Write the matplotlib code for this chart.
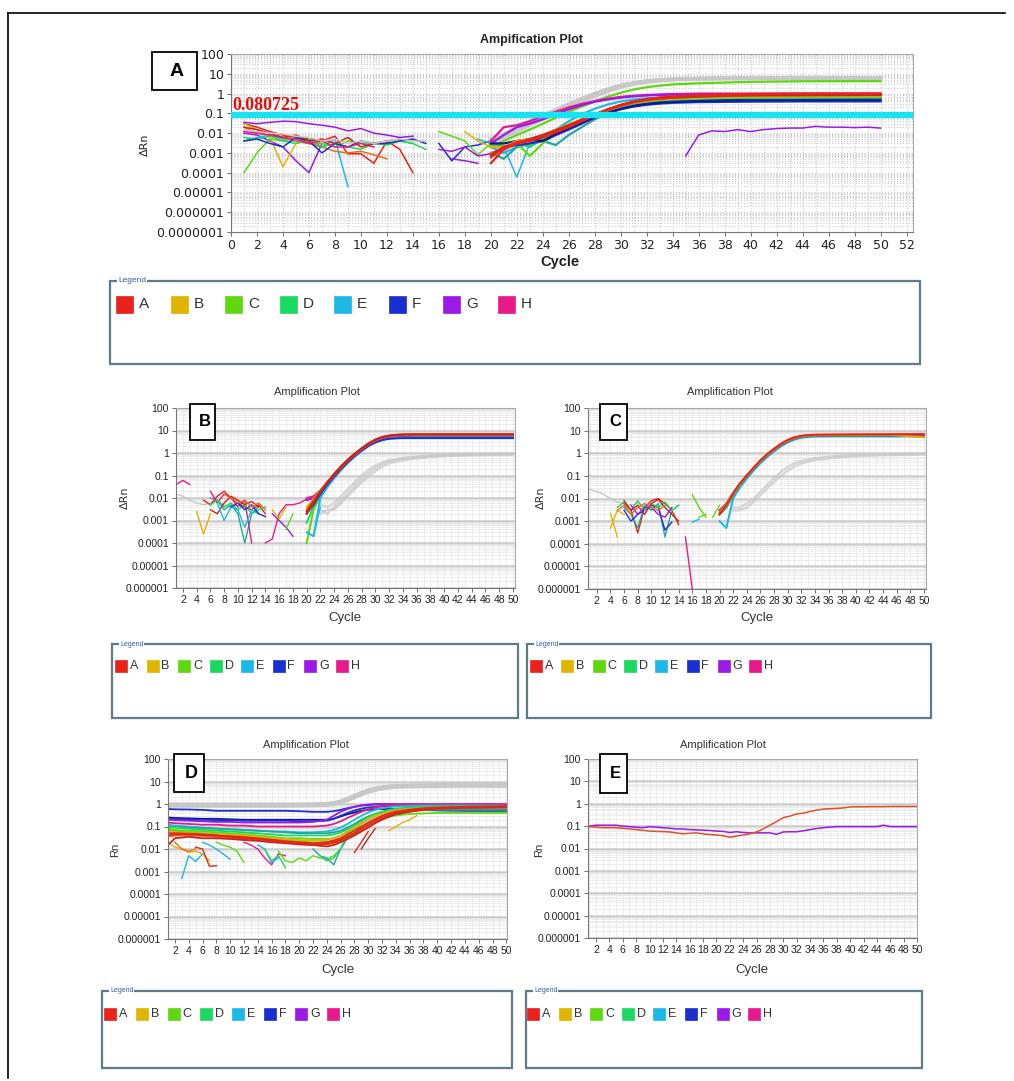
import numpy as np
import matplotlib.pyplot as plt
from matplotlib.patches import Rectangle
from matplotlib.ticker import LogLocator, MultipleLocator, NullFormatter

W, H = 1014, 1081

# legend groups and their colours
GROUPS = ['A', 'B', 'C', 'D', 'E', 'F', 'G', 'H']
GROUP_COLORS = ['#e8231b', '#e0b400', '#5fd80f', '#1bd860', '#1cb8e6', '#1a2fd0', '#9b1ae8', '#e81a8a']
C = dict(zip(GROUPS, GROUP_COLORS))
C['O'] = '#f06a1a'   # orange
C['R2'] = '#c0281e'  # dark red
C['T'] = '#20a8a0'   # teal
C['N'] = '#0a1a90'   # navy
C['GR'] = '#c8c8c8'  # grey reference wells

YLAB_A = ['0.0000001', '0.000001', '0.00001', '0.0001', '0.001', '0.01', '0.1', '1', '10', '100']
YLAB_B = YLAB_A[1:]
XT_A = list(range(0, 53, 2))
XT_B = list(range(2, 51, 2))
THRESHOLD_A = 0.080725

# ---------------- panel A : delta Rn ----------------
# noisy baseline pieces: (colour, first cycle, values)
A_NOISE = [
    ('A', 1, [0.03, 0.02, 0.012, 0.008, 0.006, 0.005, 0.004, 0.007, 0.0009, 0.0009, 0.0003, 0.004, 0.0015, 0.0001]),
    ('G', 1, [0.035, 0.03, 0.035, 0.04, 0.038, 0.03, 0.025, 0.02, 0.013, 0.017, 0.01, 0.008, 0.006, 0.007]),
    ('G', 1, [0.01, 0.008, 0.004, 0.002, 0.0004, 0.0001, 0.003]),
    ('E', 1, [0.004, 0.006, 0.008, 0.005, 0.004, 0.003, 0.002, 0.005, 0.00002]),
    ('B', 1, [0.03, 0.015, 0.006, 0.0002, 0.003, 0.004, 0.003]),
    ('C', 1, [0.0001, 0.001, 0.005, 0.004, 0.006, 0.003, 0.003, 0.002, 0.004, 0.003, 0.003, 0.003, 0.004, 0.003]),
    ('O', 1, [0.02, 0.01, 0.008, 0.006, 0.004, 0.003, 0.002, 0.0012, 0.001, 0.0012, 0.0008, 0.0005]),
    ('D', 1, [0.006, 0.005, 0.007, 0.004, 0.003, 0.005, 0.002, 0.003, 0.002, 0.0015, 0.003, 0.0025, 0.004, 0.003, 0.0015]),
    ('F', 1, [0.004, 0.005, 0.003, 0.002, 0.006, 0.004, 0.001, 0.003, 0.002, 0.004, 0.003, 0.003, 0.004, 0.005, 0.003]),
    ('H', 1, [0.012, 0.01, 0.008, 0.006, 0.005, 0.003, 0.004, 0.002, 0.002, 0.003, 0.002]),
    ('R2', 1, [0.02, 0.015, 0.01, 0.006, 0.008, 0.004, 0.005, 0.003, 0.006, 0.002, 0.003, 0.004, 0.005]),
    ('GR', 1, [0.015, 0.012, 0.01, 0.009, 0.007, 0.006, 0.004, 0.005, 0.003, 0.004, 0.003, 0.004, 0.005, 0.004, 0.004]),
    ('F', 16, [0.003, 0.0004, 0.002, 0.0025, 0.004]),
    ('C', 16, [0.012, 0.007, 0.004, 0.0008, 0.003, 0.006]),
    ('G', 17, [0.0005, 0.0004, 0.0003]),
    ('G', 16, [0.0015, 0.0012, 0.002, 0.0007, 0.0009, 0.002]),
    ('B', 18, [0.012, 0.004, 0.002, 0.003]),
    ('E', 19, [0.005, 0.003, 0.002, 0.00006, 0.003]),
    ('T', 20, [0.004, 0.002, 0.003, 0.002]),
]
A_AMP_X = [20, 21, 22, 23, 24, 25, 26, 27, 28, 29, 30, 31, 32, 33, 34, 36, 38, 40, 44, 50]
A_AMP = [
    ('GR', [0.004, 0.008, 0.015, 0.03, 0.06, 0.12, 0.25, 0.5, 0.9, 1.5, 2.4, 3.3, 4.2, 4.9, 5.4, 5.9, 6.1, 6.2, 6.3, 6.3]),
    ('GR', [0.003, 0.006, 0.012, 0.025, 0.05, 0.1, 0.2, 0.4, 0.75, 1.3, 2.1, 3.0, 3.8, 4.5, 5.0, 5.5, 5.8, 6.0, 6.1, 6.2]),
    ('GR', [0.005, 0.009, 0.02, 0.04, 0.08, 0.15, 0.3, 0.55, 1.0, 1.7, 2.6, 3.5, 4.3, 4.8, 5.2, 5.6, 5.8, 5.9, 6.0, 6.0]),
    ('C', [0.002, 0.004, 0.008, 0.015, 0.03, 0.06, 0.12, 0.22, 0.4, 0.7, 1.1, 1.6, 2.1, 2.5, 2.9, 3.3, 3.6, 3.9, 4.2, 4.3]),
    ('H', [0.004, 0.02, 0.025, 0.04, 0.07, 0.12, 0.2, 0.3, 0.42, 0.55, 0.68, 0.78, 0.85, 0.9, 0.95, 1.0, 1.0, 1.0, 1.0, 1.0]),
    ('G', [0.003, 0.008, 0.02, 0.03, 0.05, 0.09, 0.16, 0.26, 0.38, 0.5, 0.62, 0.72, 0.8, 0.85, 0.88, 0.9, 0.9, 0.9, 0.9, 0.9]),
    ('E', [0.002, 0.001, 0.002, 0.003, 0.006, 0.015, 0.04, 0.09, 0.17, 0.28, 0.4, 0.5, 0.58, 0.62, 0.65, 0.68, 0.7, 0.7, 0.7, 0.7]),
    ('T', [0.001, 0.0005, 0.002, 0.003, 0.004, 0.0025, 0.008, 0.02, 0.05, 0.1, 0.18, 0.26, 0.33, 0.38, 0.42, 0.46, 0.5, 0.52, 0.53, 0.55]),
    ('C', [0.0025, 0.002, 0.003, 0.0007, 0.003, 0.009, 0.02, 0.04, 0.075, 0.13, 0.22, 0.3, 0.38, 0.44, 0.5, 0.55, 0.58, 0.6, 0.62, 0.63]),
    ('D', [0.003, 0.002, 0.004, 0.002, 0.005, 0.01, 0.02, 0.038, 0.07, 0.12, 0.2, 0.28, 0.36, 0.42, 0.47, 0.52, 0.55, 0.57, 0.58, 0.6]),
    ('F', [0.002, 0.002, 0.0025, 0.003, 0.004, 0.008, 0.015, 0.03, 0.06, 0.1, 0.16, 0.22, 0.27, 0.31, 0.34, 0.37, 0.38, 0.39, 0.4, 0.4]),
    ('N', [0.003, 0.003, 0.004, 0.005, 0.004, 0.009, 0.018, 0.035, 0.065, 0.11, 0.17, 0.24, 0.3, 0.35, 0.38, 0.42, 0.45, 0.46, 0.47, 0.48]),
    ('B', [0.002, 0.002, 0.004, 0.005, 0.008, 0.015, 0.028, 0.05, 0.09, 0.15, 0.24, 0.34, 0.43, 0.5, 0.55, 0.62, 0.66, 0.7, 0.72, 0.74]),
    ('O', [0.001, 0.0015, 0.003, 0.004, 0.007, 0.012, 0.022, 0.042, 0.08, 0.14, 0.23, 0.34, 0.45, 0.55, 0.62, 0.72, 0.8, 0.85, 0.88, 0.9]),
    ('R2', [0.0008, 0.002, 0.003, 0.005, 0.008, 0.014, 0.025, 0.048, 0.09, 0.16, 0.26, 0.38, 0.48, 0.56, 0.62, 0.7, 0.76, 0.8, 0.82, 0.85]),
    ('A', [0.0003, 0.0015, 0.003, 0.004, 0.006, 0.011, 0.02, 0.04, 0.08, 0.15, 0.25, 0.38, 0.5, 0.6, 0.68, 0.78, 0.85, 0.9, 0.95, 0.95]),
    ('A', [0.0006, 0.0018, 0.0035, 0.0045, 0.007, 0.012, 0.022, 0.043, 0.085, 0.16, 0.27, 0.4, 0.53, 0.63, 0.72, 0.82, 0.9, 0.95, 1.0, 1.0]),
]
A_LATE_X = list(range(35, 51))
A_LATE = [0.0007, 0.008, 0.013, 0.012, 0.015, 0.012, 0.015, 0.017, 0.018, 0.018, 0.022, 0.02, 0.02, 0.019, 0.02, 0.018]

# ---------------- panel B : delta Rn ----------------
B_NOISE = [
    ('H', 1, [0.04, 0.06, 0.04]),
    ('GR', 1, [0.015, 0.012, 0.008, 0.006, 0.005, 0.006, 0.008, 0.005, 0.004, 0.005]),
    ('B', 4, [0.0025, 0.00025, 0.002]),
    ('A', 5, [0.008, 0.005, 0.012, 0.02, 0.01, 0.006, 0.004, 0.003, 0.005, 0.002]),
    ('T', 6, [0.01, 0.008, 0.003, 0.005, 0.002, 0.0001, 0.002, 0.004]),
    ('H', 6, [0.02, 0.006, 0.015, 0.01, 0.004, 0.008, 0.0001]),
    ('D', 6, [0.005, 0.008, 0.004, 0.006, 0.003, 0.005, 0.002, 0.003, 0.004]),
    ('R2', 6, [0.003, 0.002, 0.006, 0.012, 0.008, 0.005, 0.007, 0.004]),
    ('E', 7, [0.006, 0.001, 0.004, 0.003, 0.0005, 0.003, 0.002]),
    ('F', 9, [0.004, 0.006, 0.003, 0.005, 0.002, 0.0015]),
    ('O', 8, [0.015, 0.01, 0.006, 0.008, 0.004, 0.006, 0.003]),
    ('H', 14, [0.0001, 0.00015, 0.002, 0.005, 0.005, 0.006, 0.009]),
    ('G', 15, [0.002, 0.001, 0.0005, 0.0002]),
    ('B', 15, [0.003, 0.0012, 0.004]),
    ('C', 17, [0.0004, 0.002]),
    ('C', 20, [0.0001, 0.003]),
    ('E', 21, [0.0002, 0.004]),
]
B_AMP_X = [20, 21, 22, 23, 24, 25, 26, 27, 28, 29, 30, 31, 32, 33, 34, 36, 40, 45, 50]
B_AMP = [
    ('C', [0.0001, 0.003, 0.012, 0.035, 0.085, 0.19, 0.4, 0.75, 1.3, 2.2, 3.3, 4.4, 5.2, 5.6, 5.8, 5.9, 5.9, 6.0, 6.0]),
    ('D', [0.0008, 0.004, 0.014, 0.038, 0.09, 0.2, 0.42, 0.78, 1.35, 2.2, 3.2, 4.2, 4.9, 5.3, 5.5, 5.6, 5.6, 5.6, 5.6]),
    ('E', [0.0003, 0.0002, 0.01, 0.03, 0.075, 0.17, 0.36, 0.68, 1.2, 2.0, 2.9, 3.7, 4.3, 4.6, 4.7, 4.7, 4.7, 4.7, 4.7]),
    ('F', [0.002, 0.005, 0.015, 0.04, 0.09, 0.2, 0.4, 0.75, 1.3, 2.1, 3.0, 3.8, 4.3, 4.5, 4.6, 4.6, 4.6, 4.6, 4.6]),
    ('G', [0.008, 0.01, 0.02, 0.05, 0.11, 0.23, 0.46, 0.85, 1.45, 2.4, 3.5, 4.6, 5.3, 5.7, 5.9, 6.0, 6.0, 6.0, 6.0]),
    ('H', [0.01, 0.012, 0.022, 0.05, 0.11, 0.24, 0.48, 0.88, 1.5, 2.5, 3.7, 4.8, 5.6, 6.0, 6.2, 6.3, 6.3, 6.3, 6.3]),
    ('B', [0.004, 0.009, 0.022, 0.05, 0.11, 0.23, 0.47, 0.85, 1.5, 2.5, 3.7, 4.9, 5.7, 6.1, 6.3, 6.4, 6.4, 6.5, 6.5]),
    ('O', [0.003, 0.008, 0.02, 0.05, 0.11, 0.24, 0.5, 0.9, 1.6, 2.6, 3.9, 5.1, 5.9, 6.3, 6.5, 6.6, 6.7, 6.7, 6.7]),
    ('A', [0.002, 0.006, 0.018, 0.045, 0.1, 0.22, 0.45, 0.85, 1.5, 2.5, 3.8, 5.0, 5.8, 6.3, 6.5, 6.6, 6.6, 6.6, 6.6]),
    ('R2', [0.0025, 0.007, 0.02, 0.05, 0.12, 0.26, 0.52, 0.95, 1.65, 2.7, 4.0, 5.2, 6.0, 6.5, 6.7, 6.8, 6.8, 6.8, 6.8]),
]
GREY_X = [22, 23, 24, 25, 26, 27, 28, 29, 30, 31, 32, 34, 36, 38, 40, 44, 50]
B_GREY = [
    [0.003, 0.002, 0.004, 0.008, 0.016, 0.035, 0.07, 0.13, 0.22, 0.32, 0.42, 0.55, 0.65, 0.72, 0.78, 0.85, 0.9],
    [0.005, 0.004, 0.006, 0.012, 0.025, 0.05, 0.1, 0.18, 0.28, 0.38, 0.48, 0.6, 0.7, 0.78, 0.83, 0.9, 0.95],
    [0.002, 0.003, 0.003, 0.006, 0.012, 0.025, 0.05, 0.09, 0.16, 0.25, 0.35, 0.48, 0.58, 0.66, 0.72, 0.8, 0.85],
]

# ---------------- panel C : delta Rn ----------------
C_NOISE = [
    ('GR', 1, [0.025, 0.02, 0.015, 0.01, 0.007, 0.006, 0.005, 0.006, 0.004, 0.005]),
    ('B', 4, [0.0005, 0.003, 0.002]),
    ('B', 4, [0.0022, 0.0002]),
    ('A', 6, [0.006, 0.003, 0.0003, 0.004, 0.008, 0.01, 0.006, 0.003, 0.0007]),
    ('T', 6, [0.004, 0.002, 0.0005, 0.005, 0.003, 0.006, 0.0002, 0.003, 0.005]),
    ('F', 6, [0.003, 0.001, 0.002, 0.003, 0.005, 0.004, 0.0004, 0.0009]),
    ('D', 5, [0.004, 0.007, 0.003, 0.008, 0.003, 0.006, 0.004, 0.007, 0.003, 0.005]),
    ('R2', 6, [0.008, 0.003, 0.005, 0.002, 0.006, 0.009, 0.004, 0.002, 0.001]),
    ('G', 7, [0.005, 0.002, 0.004, 0.004, 0.002, 0.0015, 0.004]),
    ('O', 5, [0.003, 0.005, 0.002, 0.004, 0.006, 0.004, 0.003, 0.005]),
    ('H', 15, [0.0002, 0.000001]),
    ('C', 16, [0.015, 0.004, 0.0015]),
    ('E', 16, [0.0009, 0.0012]),
    ('C', 17, [0.0015, 0.002]),
    ('C', 19, [0.0015, 0.005]),
    ('E', 21, [0.0005, 0.01]),
]
C_AMP = [
    ('E', [0.001, 0.0005, 0.01, 0.03, 0.075, 0.17, 0.36, 0.68, 1.2, 2.0, 3.0, 4.0, 4.8, 5.2, 5.4, 5.5, 5.5, 5.5, 5.5]),
    ('F', [0.002, 0.004, 0.014, 0.04, 0.09, 0.2, 0.42, 0.78, 1.35, 2.2, 3.3, 4.4, 5.2, 5.6, 5.8, 5.8, 5.8, 5.8, 5.8]),
    ('C', [0.003, 0.005, 0.016, 0.042, 0.095, 0.21, 0.44, 0.8, 1.4, 2.3, 3.4, 4.5, 5.3, 5.8, 6.0, 6.0, 6.0, 6.1, 6.1]),
    ('D', [0.002, 0.004, 0.015, 0.04, 0.095, 0.21, 0.44, 0.82, 1.4, 2.3, 3.5, 4.6, 5.4, 5.9, 6.1, 6.2, 6.2, 6.2, 6.2]),
    ('G', [0.003, 0.006, 0.017, 0.045, 0.1, 0.22, 0.46, 0.85, 1.45, 2.4, 3.6, 4.7, 5.5, 6.0, 6.2, 6.3, 6.4, 6.4, 6.4]),
    ('B', [0.002, 0.005, 0.016, 0.043, 0.1, 0.22, 0.47, 0.87, 1.5, 2.5, 3.7, 4.9, 5.7, 6.1, 6.3, 6.4, 6.5, 6.6, 5.0]),
    ('O', [0.0025, 0.006, 0.018, 0.047, 0.105, 0.23, 0.48, 0.9, 1.55, 2.55, 3.8, 5.0, 5.8, 6.3, 6.5, 6.6, 6.7, 6.8, 6.8]),
    ('A', [0.002, 0.005, 0.017, 0.046, 0.105, 0.23, 0.49, 0.92, 1.6, 2.6, 3.9, 5.1, 5.9, 6.4, 6.6, 6.7, 6.8, 6.9, 7.0]),
]
C_GREY = [
    [0.004, 0.004, 0.006, 0.01, 0.02, 0.04, 0.08, 0.15, 0.25, 0.36, 0.46, 0.6, 0.7, 0.78, 0.83, 0.9, 0.95],
    [0.003, 0.003, 0.004, 0.007, 0.014, 0.028, 0.055, 0.1, 0.17, 0.26, 0.36, 0.5, 0.6, 0.68, 0.74, 0.82, 0.88],
]

# ---------------- panel D : Rn ----------------
D_X = [1, 2, 4, 6, 8, 10, 12, 14, 16, 18, 20, 22, 24, 25, 26, 27, 28, 29, 30, 31, 32, 33, 34, 36, 38, 40, 44, 50]
D_GREY = [
    [0.95, 0.95, 0.95, 0.95, 0.95, 0.95, 0.95, 0.95, 0.95, 0.95, 0.95, 0.97, 1.0, 1.1, 1.3, 1.7, 2.3, 3.1, 4.0, 4.8, 5.5, 6.0, 6.3, 6.6, 6.8, 6.9, 7.0, 7.0],
    [0.85, 0.85, 0.85, 0.85, 0.85, 0.85, 0.85, 0.85, 0.85, 0.85, 0.86, 0.88, 0.92, 1.0, 1.2, 1.5, 2.0, 2.7, 3.5, 4.3, 5.0, 5.5, 5.8, 6.1, 6.3, 6.4, 6.5, 6.5],
]
D_CURVES = [
    ('F', [0.6, 0.58, 0.57, 0.55, 0.5, 0.5, 0.5, 0.5, 0.5, 0.5, 0.48, 0.45, 0.45, 0.48, 0.55, 0.65, 0.75, 0.85, 0.9, 0.95, 0.95, 0.95, 0.95, 0.95, 0.9, 0.9, 0.9, 0.9]),
    ('N', [0.25, 0.24, 0.23, 0.22, 0.22, 0.21, 0.2, 0.2, 0.2, 0.2, 0.2, 0.2, 0.2, 0.22, 0.28, 0.35, 0.42, 0.5, 0.55, 0.58, 0.6, 0.6, 0.6, 0.58, 0.55, 0.52, 0.5, 0.5]),
    ('F', [0.22, 0.21, 0.2, 0.2, 0.19, 0.19, 0.18, 0.18, 0.18, 0.18, 0.17, 0.17, 0.18, 0.22, 0.3, 0.4, 0.52, 0.62, 0.7, 0.75, 0.78, 0.8, 0.8, 0.8, 0.78, 0.75, 0.7, 0.7]),
    ('G', [0.2, 0.19, 0.18, 0.17, 0.16, 0.16, 0.15, 0.15, 0.15, 0.15, 0.15, 0.16, 0.2, 0.3, 0.45, 0.6, 0.75, 0.88, 0.95, 1.0, 1.0, 1.0, 1.0, 0.95, 0.9, 0.85, 0.8, 0.8]),
    ('H', [0.15, 0.14, 0.13, 0.12, 0.12, 0.11, 0.11, 0.1, 0.1, 0.1, 0.1, 0.1, 0.11, 0.13, 0.17, 0.24, 0.33, 0.45, 0.58, 0.7, 0.8, 0.88, 0.95, 1.0, 1.0, 1.0, 1.0, 1.0]),
    ('E', [0.12, 0.11, 0.1, 0.09, 0.08, 0.075, 0.07, 0.065, 0.06, 0.06, 0.055, 0.055, 0.06, 0.07, 0.09, 0.13, 0.2, 0.3, 0.42, 0.55, 0.65, 0.72, 0.78, 0.82, 0.85, 0.85, 0.85, 0.85]),
    ('T', [0.1, 0.095, 0.09, 0.085, 0.08, 0.075, 0.07, 0.065, 0.06, 0.055, 0.05, 0.05, 0.05, 0.055, 0.065, 0.09, 0.13, 0.2, 0.28, 0.36, 0.43, 0.48, 0.52, 0.55, 0.55, 0.55, 0.55, 0.55]),
    ('D', [0.1, 0.09, 0.08, 0.07, 0.065, 0.06, 0.055, 0.05, 0.045, 0.04, 0.04, 0.04, 0.04, 0.045, 0.055, 0.075, 0.11, 0.17, 0.26, 0.36, 0.46, 0.55, 0.62, 0.7, 0.75, 0.78, 0.8, 0.8]),
    ('C', [0.08, 0.07, 0.065, 0.06, 0.055, 0.05, 0.045, 0.04, 0.035, 0.03, 0.03, 0.028, 0.028, 0.03, 0.04, 0.055, 0.08, 0.13, 0.2, 0.29, 0.38, 0.46, 0.53, 0.6, 0.65, 0.68, 0.7, 0.7]),
    ('C', [0.07, 0.06, 0.055, 0.05, 0.045, 0.04, 0.036, 0.032, 0.028, 0.025, 0.022, 0.02, 0.02, 0.022, 0.028, 0.038, 0.055, 0.08, 0.12, 0.17, 0.22, 0.27, 0.31, 0.36, 0.38, 0.4, 0.4, 0.4]),
    ('B', [0.06, 0.055, 0.05, 0.047, 0.045, 0.042, 0.04, 0.035, 0.03, 0.028, 0.025, 0.024, 0.025, 0.03, 0.04, 0.06, 0.09, 0.14, 0.21, 0.3, 0.38, 0.45, 0.52, 0.6, 0.65, 0.68, 0.7, 0.72]),
    ('O', [0.035, 0.04, 0.04, 0.038, 0.035, 0.032, 0.028, 0.025, 0.022, 0.02, 0.017, 0.015, 0.016, 0.018, 0.022, 0.03, 0.045, 0.07, 0.11, 0.16, 0.22, 0.3, 0.38, 0.48, 0.56, 0.62, 0.68, 0.7]),
    ('R2', [0.015, 0.03, 0.035, 0.03, 0.03, 0.028, 0.025, 0.023, 0.02, 0.018, 0.016, 0.015, 0.013, 0.015, 0.02, 0.028, 0.04, 0.06, 0.09, 0.14, 0.2, 0.27, 0.35, 0.45, 0.55, 0.62, 0.68, 0.7]),
    ('A', [0.04, 0.045, 0.045, 0.042, 0.04, 0.035, 0.03, 0.028, 0.024, 0.02, 0.018, 0.016, 0.017, 0.02, 0.025, 0.035, 0.05, 0.08, 0.12, 0.18, 0.25, 0.32, 0.4, 0.5, 0.6, 0.65, 0.7, 0.75]),
    ('A', [0.05, 0.05, 0.048, 0.045, 0.04, 0.037, 0.034, 0.03, 0.026, 0.022, 0.02, 0.018, 0.02, 0.024, 0.03, 0.045, 0.065, 0.1, 0.15, 0.22, 0.3, 0.38, 0.46, 0.56, 0.65, 0.7, 0.75, 0.8]),
]
D_NOISE = [
    ('B', 1, [0.02, 0.012, 0.01, 0.007, 0.008, 0.006, 0.003]),
    ('O', 2, [0.02, 0.01, 0.008, 0.01]),
    ('E', 3, [0.0005, 0.005, 0.0028, 0.006]),
    ('A', 5, [0.012, 0.01, 0.0017, 0.0018]),
    ('E', 6, [0.02, 0.015, 0.01, 0.006, 0.0035]),
    ('C', 8, [0.02, 0.015, 0.012, 0.008, 0.0025]),
    ('H', 12, [0.02, 0.015, 0.01, 0.004, 0.002, 0.006, 0.005]),
    ('E', 14, [0.015, 0.01, 0.0025, 0.004]),
    ('D', 15, [0.01, 0.003, 0.005, 0.0015]),
    ('C', 17, [0.008, 0.003, 0.0025, 0.004, 0.003, 0.005, 0.004, 0.0035, 0.005, 0.01]),
    ('T', 22, [0.01, 0.005, 0.004, 0.002, 0.01, 0.03]),
    ('D', 23, [0.005, 0.003, 0.004, 0.01, 0.05]),
    ('A', 28, [0.007, 0.02, 0.06]),
    ('R2', 29, [0.01, 0.03, 0.08]),
    ('B', 33, [0.065, 0.1, 0.15, 0.2, 0.3]),
]

# ---------------- panel E : Rn ----------------
E_X = list(range(1, 51))
E_RED = [0.095, 0.09, 0.085, 0.085, 0.085, 0.08, 0.075, 0.07, 0.065, 0.06, 0.058, 0.057, 0.055, 0.05, 0.045,
         0.048, 0.05, 0.045, 0.042, 0.04, 0.037, 0.032, 0.036, 0.04, 0.045, 0.055, 0.075, 0.11, 0.16, 0.24,
         0.28, 0.35, 0.38, 0.45, 0.52, 0.58, 0.6, 0.62, 0.65, 0.72, 0.73, 0.73, 0.74, 0.74, 0.74, 0.75, 0.75, 0.75, 0.75, 0.75]
E_PURPLE = [0.1, 0.11, 0.11, 0.11, 0.11, 0.1, 0.095, 0.09, 0.085, 0.095, 0.09, 0.085, 0.08, 0.075, 0.075,
            0.07, 0.068, 0.066, 0.064, 0.06, 0.058, 0.052, 0.056, 0.052, 0.05, 0.05, 0.05, 0.05, 0.043, 0.055,
            0.056, 0.056, 0.062, 0.07, 0.078, 0.085, 0.09, 0.095, 0.095, 0.095, 0.095, 0.095, 0.095, 0.095, 0.11,
            0.095, 0.095, 0.095, 0.095, 0.095]

NARROW = ['Liberation Sans Narrow', 'Liberation Sans', 'DejaVu Sans']

fig = plt.figure(figsize=(W / 100, H / 100), dpi=100)
bg = fig.add_axes([0, 0, 1, 1])
bg.set_xlim(0, W)
bg.set_ylim(H, 0)
bg.axis('off')


def px_axes(x0, y0, x1, y1):
    return fig.add_axes([x0 / W, 1 - y1 / H, (x1 - x0) / W, (y1 - y0) / H])


def style_axes(ax, ylabels, xticks, xlim, big):
    ax.set_yscale('log')
    ax.set_ylim(10.0 ** (2 - len(ylabels) + 1), 100)
    ax.set_xlim(*xlim)
    ax.set_yticks([10.0 ** (2 - len(ylabels) + 1 + i) for i in range(len(ylabels))])
    ax.set_yticklabels(ylabels)
    ax.set_xticks(xticks)
    ax.set_xticklabels([str(t) for t in xticks])
    ax.yaxis.set_minor_locator(LogLocator(base=10, subs=np.arange(2, 10), numticks=100))
    ax.yaxis.set_minor_formatter(NullFormatter())
    ax.xaxis.set_minor_locator(MultipleLocator(1))
    ax.tick_params(which='minor', length=0)
    ax.tick_params(which='major', length=3, width=0.6, colors='#555555', pad=2)
    if big:
        ax.grid(True, which='both', color='#cccccc', ls=':', lw=0.8)
        for lab in ax.get_xticklabels() + ax.get_yticklabels():
            lab.set_fontfamily('DejaVu Sans')
            lab.set_fontsize(9)
            lab.set_color('#222222')
    else:
        ax.grid(True, which='minor', color='#e6e6e6', lw=0.5)
        ax.grid(True, which='major', axis='y', color='#cccccc', lw=1.8)
        ax.grid(True, which='major', axis='x', color='#e6e6e6', lw=0.5)
        for lab in ax.get_xticklabels() + ax.get_yticklabels():
            lab.set_fontfamily(NARROW)
            lab.set_fontsize(7.5)
            lab.set_color('#222222')
    for s in ax.spines.values():
        s.set_color('#aaaaaa')
        s.set_linewidth(0.8)
    ax.spines['left'].set_color('#777777')
    ax.spines['bottom'].set_color('#777777')
    ax.set_axisbelow(True)


def draw_pieces(ax, pieces, lw):
    for key, start, vals in pieces:
        ax.plot(np.arange(start, start + len(vals)), vals, color=C[key], lw=lw)


def draw_curves(ax, xs, curves, lw):
    for key, vals in curves:
        ax.plot(xs, vals, color=C[key], lw=lw)


# ----- panel A
axA = px_axes(231, 54, 913, 232)
style_axes(axA, YLAB_A, XT_A, (0, 52.5), True)
draw_pieces(axA, A_NOISE, 1.1)
draw_curves(axA, A_AMP_X, A_AMP[:3], 2.6)
draw_curves(axA, A_AMP_X, A_AMP[3:], 1.6)
axA.plot(A_LATE_X, A_LATE, color=C['G'], lw=1.1)
axA.axhline(THRESHOLD_A, color='#19e3f0', lw=4.5, zorder=5)

# ----- panel B
axB = px_axes(176, 408, 515, 588)
style_axes(axB, YLAB_B, XT_B, (1, 50.3), False)
for vals in B_GREY:
    axB.plot(GREY_X, vals, color=C['GR'], lw=1.8, alpha=0.7)
draw_pieces(axB, B_NOISE, 1.0)
draw_curves(axB, B_AMP_X, B_AMP, 1.4)

# ----- panel C
axC = px_axes(588, 408, 926, 589)
style_axes(axC, YLAB_B, XT_B, (0.7, 50.3), False)
for vals in C_GREY:
    axC.plot(GREY_X, vals, color=C['GR'], lw=1.8, alpha=0.7)
draw_pieces(axC, C_NOISE, 1.0)
draw_curves(axC, B_AMP_X, C_AMP, 1.4)

# ----- panel D
axD = px_axes(168, 759, 507, 939)
style_axes(axD, YLAB_B, XT_B, (1, 50.1), False)
for vals in D_GREY:
    axD.plot(D_X, vals, color=C['GR'], lw=3.0)
draw_pieces(axD, D_NOISE, 1.0)
draw_curves(axD, D_X, D_CURVES, 1.3)

# ----- panel E
axE = px_axes(588, 759, 917, 938)
style_axes(axE, YLAB_B, XT_B, (0.8, 50), False)
axE.plot(E_X, E_PURPLE, color=C['G'], lw=1.1)
axE.plot(E_X, E_RED, color='#e0502a', lw=1.1)

# ----- texts, legends and frame in pixel space (top overlay)
top = fig.add_axes([0, 0, 1, 1])
top.set_xlim(0, W)
top.set_ylim(H, 0)
top.axis('off')
top.patch.set_alpha(0)

top.plot([8, 1005], [13, 13], color='black', lw=1.2)
top.plot([8, 8], [13, 1078], color='black', lw=1.2)

top.text(532, 40, 'Ampification Plot', ha='center', va='center', fontsize=9,
         fontweight='bold', family='Liberation Sans', color='#222222')
top.text(560, 262, 'Cycle', ha='center', va='center', fontsize=10.5,
         fontweight='bold', family='Liberation Sans', color='#222222')
top.text(145, 145, 'ΔRn', ha='center', va='center', fontsize=8, rotation=90,
         family='DejaVu Sans', color='#222222')
top.text(232, 105, '0.080725', ha='left', va='center', fontsize=13,
         fontweight='bold', family='Liberation Serif', color='#e01010', zorder=6)

panels = [
    # title x, title y, cycle x, cycle y, ylabel x, ylabel y, ylabel
    (317, 392, 345, 618, 125, 498, 'ΔRn'),
    (730, 392, 757, 618, 541, 498, 'ΔRn'),
    (306, 745, 338, 970, 115, 850, 'Rn'),
    (723, 745, 752, 970, 539, 850, 'Rn'),
]
for tx, ty, cx, cy, lx, ly, ylab in panels:
    top.text(tx, ty, 'Amplification Plot', ha='center', va='center', fontsize=8,
             family=NARROW, color='#333333')
    top.text(cx, cy, 'Cycle', ha='center', va='center', fontsize=9.5,
             family=NARROW, color='#333333')
    top.text(lx, ly, ylab, ha='center', va='center', fontsize=8, rotation=90,
             family=['DejaVu Sans'] if ylab == 'ΔRn' else NARROW, color='#333333')

# panel letter boxes
letter_boxes = [('A', 152, 52, 197, 90, 14), ('B', 190, 404, 215, 440, 12),
                ('C', 600, 404, 627, 440, 12), ('D', 174, 754, 204, 792, 13),
                ('E', 600, 754, 627, 793, 12)]
for lab, x0, y0, x1, y1, fs in letter_boxes:
    top.add_patch(Rectangle((x0, y0), x1 - x0, y1 - y0, facecolor='white',
                            edgecolor='black', lw=1.3, zorder=7))
    top.text((x0 + x1) / 2 + 2, (y0 + y1) / 2, lab, ha='center', va='center',
             fontsize=fs, fontweight='bold', family='Liberation Sans', zorder=8)

# legend boxes: (x0, y0, x1, y1, first swatch x, spacing, row y, swatch size, font size, big)
legend_boxes = [
    (110, 281, 920, 364, 116, 54.5, 304, 17, 11, True),
    (112, 644, 518, 718, 115, 31.5, 666, 12, 9, False),
    (527, 644, 931, 718, 530, 31.3, 666, 12, 9, False),
    (102, 991, 512, 1068, 104, 31.9, 1014, 12, 9, False),
    (526, 991, 922, 1068, 527, 31.6, 1014, 12, 9, False),
]
for x0, y0, x1, y1, sx, step, ry, sq, fs, big in legend_boxes:
    top.add_patch(Rectangle((x0, y0), x1 - x0, y1 - y0, facecolor='white',
                            edgecolor='#5c7c8c', lw=1.6, zorder=1))
    top.text(x0 + 8, y0, 'Legend', ha='left', va='center', fontsize=6 if big else 5,
             family=NARROW, color='#2f5f9f', zorder=3,
             bbox=dict(facecolor='white', edgecolor='none', pad=0.5))
    for i, (g, col) in enumerate(zip(GROUPS, GROUP_COLORS)):
        x = sx + i * step
        top.add_patch(Rectangle((x, ry - sq / 2), sq, sq, facecolor=col,
                                edgecolor=col, lw=0.5, zorder=3))
        top.text(x + sq + (6 if big else 3), ry, g, ha='left', va='center', fontsize=fs,
                 family='Liberation Sans' if big else NARROW, color='#333333', zorder=3)

fig.savefig('out.png', dpi=100)
